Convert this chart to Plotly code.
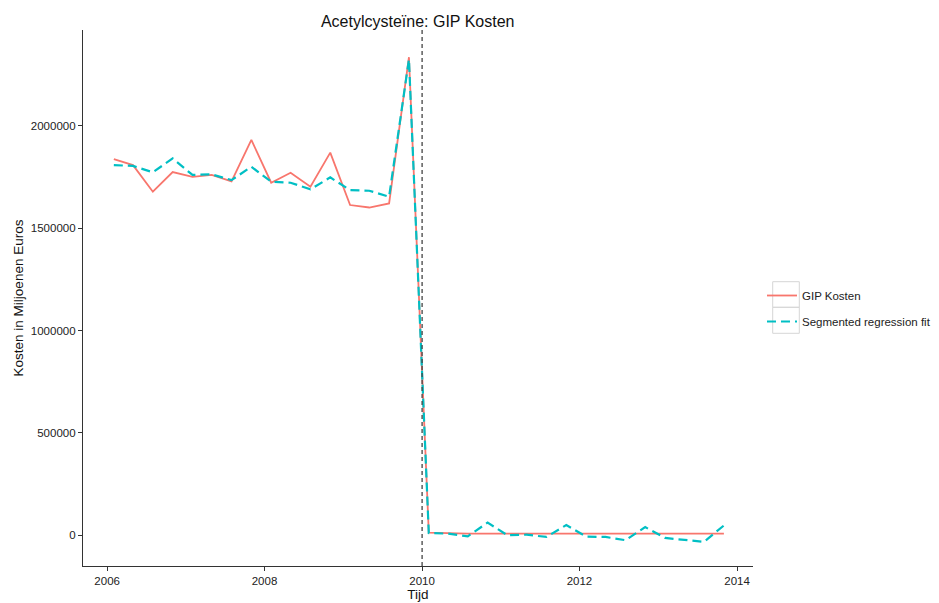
import plotly.graph_objects as go

# ---------------- data ----------------
dates = [
    "2006-02-01", "2006-05-01", "2006-08-01", "2006-11-01",
    "2007-02-01", "2007-05-01", "2007-08-01", "2007-11-01",
    "2008-02-01", "2008-05-01", "2008-08-01", "2008-11-01",
    "2009-02-01", "2009-05-01", "2009-08-01", "2009-11-01",
    "2010-02-01", "2010-05-01", "2010-08-01", "2010-11-01",
    "2011-02-01", "2011-05-01", "2011-08-01", "2011-11-01",
    "2012-02-01", "2012-05-01", "2012-08-01", "2012-11-01",
    "2013-02-01", "2013-05-01", "2013-08-01", "2013-11-01",
]
gip_kosten = [
    1837000, 1808000, 1678000, 1774000,
    1751000, 1760000, 1729000, 1931000,
    1722000, 1771000, 1703000, 1869000,
    1613000, 1601000, 1621000, 2335000,
    13000, 9000, 8500, 8200,
    8000, 8000, 8000, 8000,
    8000, 8000, 8000, 8000,
    8000, 8000, 8000, 8000,
]
segmented_fit = [
    1808000, 1804000, 1773000, 1841000,
    1760000, 1763000, 1735000, 1800000,
    1727000, 1722000, 1690000, 1748000,
    1686000, 1683000, 1654000, 2325000,
    11000, 8000, -5000, 62000,
    0, 3000, -8000, 50000,
    -6500, -8000, -24000, 40000,
    -13000, -21000, -32000, 48000,
]
intervention_date = "2010-01-01"
y_ticks = [0, 500000, 1000000, 1500000, 2000000]
series_names = ["GIP Kosten", "Segmented regression fit"]
title_text = "Acetylcysteïne: GIP Kosten"

# ---------------- layout geometry ----------------
# page body has an 8px margin, so the figure starts at (8, 8) in the window
OFF = 8
W, H = 939 - OFF, 603 - OFF
# plot area in window pixels: left 82.7, right 752.7, top 30, bottom 565.7
ML = round(82.7 - OFF)
MT = round(30 - OFF)
MR = round(939 - 752.7)
MB = round(603 - 565.7)
PW, PH = W - ML - MR, H - MT - MB


def px_x(px):
    return (px - OFF - ML) / PW


def px_y(py):
    return (H - MB - (py - OFF)) / PH


RED = "#F8766D"
CYAN = "#00BFC4"
FONT = "Liberation Sans, Arial, sans-serif"

fig = go.Figure()
fig.add_trace(go.Scatter(
    x=dates, y=gip_kosten, mode="lines", name=series_names[0],
    line=dict(color=RED, width=1.8), legendgroup="a",
))
fig.add_trace(go.Scatter(
    x=dates, y=segmented_fit, mode="lines", name=series_names[1],
    line=dict(color=CYAN, width=2.2, dash="9px,5px"), legendgroup="b",
))

shapes = [
    dict(type="line", xref="x", yref="paper", x0=intervention_date, x1=intervention_date,
         y0=0, y1=1, line=dict(color="#444444", width=1.3, dash="4px,3px")),
]
# ggplot-style legend key boxes
for top, bot in [(281.7, 307.3), (307.3, 333.3)]:
    shapes.append(dict(type="rect", xref="paper", yref="paper",
                       x0=px_x(772.7), x1=px_x(799.3), y0=px_y(bot), y1=px_y(top),
                       line=dict(color="#d6d6d6", width=1), fillcolor="rgba(0,0,0,0)",
                       layer="below"))

fig.update_layout(
    width=W, height=H,
    margin=dict(l=ML, r=MR, t=MT, b=MB, autoexpand=False),
    paper_bgcolor="white", plot_bgcolor="white",
    font=dict(family=FONT, color="#222222"),
    title=dict(text=title_text, x=px_x(417.7), xref="paper", xanchor="center",
               y=1 - (21.7 - OFF) / H, yref="container", yanchor="middle",
               font=dict(size=16, color="#111111", family=FONT)),
    showlegend=True,
    legend=dict(x=px_x(762), xanchor="left", y=px_y(281), yanchor="top",
                bgcolor="rgba(0,0,0,0)", borderwidth=0,
                font=dict(size=11.5, color="#222222", family=FONT),
                traceorder="grouped", tracegroupgap=7),
    shapes=shapes,
)
fig.update_xaxes(
    type="date", range=["2005-09-11", "2014-03-16"],
    tick0="2006-01-01", dtick="M24", tickformat="%Y",
    showgrid=False, zeroline=False,
    showline=True, linecolor="#333333", linewidth=1.2,
    ticks="outside", ticklen=4, tickcolor="#333333", tickwidth=1,
    tickfont=dict(size=11.5, color="#222222", family=FONT),
    title=dict(text="Tijd", font=dict(size=13.5, color="#111111", family=FONT), standoff=3),
)
fig.update_yaxes(
    range=[-150000, 2468000],
    tickvals=y_ticks, tickformat="d",
    showgrid=False, zeroline=False,
    showline=True, linecolor="#333333", linewidth=1.2,
    ticks="outside", ticklen=4, tickcolor="#333333", tickwidth=1,
    tickfont=dict(size=11.5, color="#222222", family=FONT),
    title=dict(text="Kosten in Miljoenen Euros", font=dict(size=13.5, color="#111111", family=FONT), standoff=4),
)

fig.write_html("out.html")
